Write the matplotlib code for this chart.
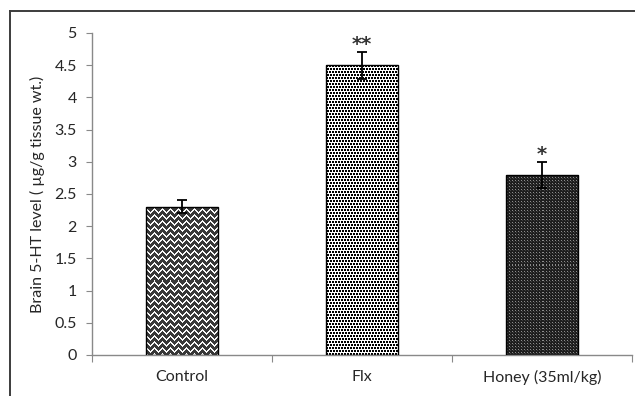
import numpy as np
import matplotlib
matplotlib.use("Agg")
import matplotlib.pyplot as plt
from matplotlib.lines import Line2D

# data
groups = ["Control", "Flx", "Honey (35ml/kg)"]
means = [2.3, 4.5, 2.8]
sems = [0.1, 0.21, 0.2]
marks = ["", "**", "*"]

plt.rcParams["font.family"] = ["Lato", "DejaVu Sans"]
axis_grey = "#898989"
text_col = "#262626"


def zigzag_tex(h, w):
    jj, ii = np.meshgrid(np.arange(w), np.arange(h))
    tri = np.abs((jj % 8) - 4)
    white = (ii + tri) % 6 < 2
    return np.where(white, 0.97, 0.22)


def dot_tex(h, w):
    # staggered 2x2 black blocks
    tile = np.array([[0.0, 0.0, 1.0, 0.0, 0.0, 1.0],
                     [0.0, 0.0, 1.0, 0.0, 0.0, 1.0],
                     [1.0, 1.0, 1.0, 1.0, 1.0, 1.0],
                     [1.0, 0.0, 0.0, 1.0, 0.0, 0.0],
                     [1.0, 0.0, 0.0, 1.0, 0.0, 0.0],
                     [1.0, 1.0, 1.0, 1.0, 1.0, 1.0]])
    return np.tile(tile, (h // 6 + 1, w // 6 + 1))[:h, :w]


def fine_tex(h, w):
    tile = np.array([[0.55, 0.12, 0.12],
                     [0.12, 0.25, 0.12],
                     [0.12, 0.12, 0.12]])
    return np.tile(tile, (h // 3 + 1, w // 3 + 1))[:h, :w]


textures = [zigzag_tex, dot_tex, fine_tex]

fig = plt.figure(figsize=(6.35, 3.96), dpi=100)
ax = fig.add_axes([92 / 635, 41 / 396, 540 / 635, 322 / 396])

x = np.arange(len(groups))
bars = ax.bar(x, means, width=0.4, facecolor="none", edgecolor="black",
              linewidth=1.0, zorder=3)
ax.set_xlim(-0.5, len(groups) - 0.5)
ax.set_ylim(0, 5)

for bar, tex in zip(bars, textures):
    bb = bar.get_window_extent()
    w_px = max(int(round(bb.width)), 1)
    h_px = max(int(round(bb.height)), 1)
    img = tex(h_px, w_px)
    im = ax.imshow(img, cmap="gray", vmin=0, vmax=1, interpolation="nearest",
                   aspect="auto", origin="upper", zorder=2,
                   extent=(bar.get_x(), bar.get_x() + bar.get_width(),
                           0, bar.get_height()))
    im.set_clip_path(bar)

ax.set_xlim(-0.5, len(groups) - 0.5)
ax.set_ylim(0, 5)

ax.errorbar(x, means, yerr=sems, fmt="none", ecolor="black", elinewidth=1.3,
            capsize=3.5, capthick=1.3, zorder=4)

for xi, m, s, t in zip(x, means, sems, marks):
    if t:
        ax.text(xi, m + s + 0.03, t, ha="center", va="baseline", fontsize=14,
                color="#333333", family="DejaVu Sans", fontweight="bold")

for side in ["top", "right"]:
    ax.spines[side].set_visible(False)
for side in ["left", "bottom"]:
    ax.spines[side].set_color(axis_grey)
    ax.spines[side].set_linewidth(1.0)

ax.set_yticks(np.arange(0, 5.01, 0.5))
ax.set_yticklabels(["0", "0.5", "1", "1.5", "2", "2.5", "3", "3.5", "4", "4.5", "5"])
ax.tick_params(axis="y", length=4, color=axis_grey, pad=7, labelsize=11.5,
               labelcolor=text_col)

ax.set_xticks(np.arange(-0.5, len(groups), 1.0))
ax.set_xticklabels([])
ax.tick_params(axis="x", which="major", length=5, color=axis_grey, direction="out")
ax.set_xticks(x, minor=True)
ax.set_xticklabels(groups, minor=True)
ax.tick_params(axis="x", which="minor", length=0, pad=11, labelsize=11.5,
               labelcolor=text_col)

ax.set_ylabel("Brain 5-HT level ( µg/g tissue wt.)", fontsize=11.5,
              labelpad=7, color=text_col)

# outer frame (runs off the right and bottom edges)
fx = 10 / 635
fy = 1 - 11 / 396
fig.add_artist(Line2D([fx, 1.0], [fy, fy], transform=fig.transFigure,
                      color="#3c3c3c", linewidth=1.4))
fig.add_artist(Line2D([fx, fx], [0.0, fy], transform=fig.transFigure,
                      color="#3c3c3c", linewidth=1.4))

fig.savefig("out.png", dpi=100)
